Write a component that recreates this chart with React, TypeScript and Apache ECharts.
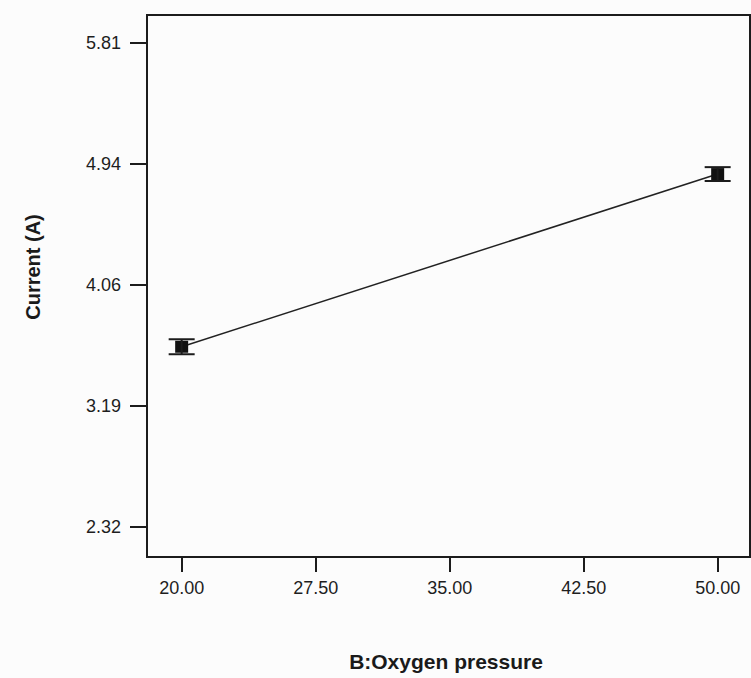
import React, { useEffect, useRef } from "react";
import * as echarts from "echarts";

// One-factor effect plot: mean current at the two oxygen-pressure levels, with LSD bars
const pressureLevels = [20, 50];
const currentMeans = [3.62, 4.865];
const lsdHalfWidths = [0.054, 0.05];

const xTickValues = [20, 27.5, 35, 42.5, 50];
const yTickValues = [2.32, 3.1925, 4.065, 4.9375, 5.81];
const yTickLabels = ["2.32", "3.19", "4.06", "4.94", "5.81"];

const X_MIN = 18.06;
const X_MAX = 51.81;
const Y_MIN = 2.104;
const Y_MAX = 6.012;

const INK = "#1c1c1c";
const FONT = "Liberation Sans, Arial, sans-serif";

export default function App() {
  const ref = useRef<HTMLDivElement>(null);

  useEffect(() => {
    if (!ref.current) return;
    const chart = echarts.init(ref.current, null, { renderer: "svg" });

    const points = pressureLevels.map((x, i) => [x, currentMeans[i]]);
    const bars = pressureLevels.map((x, i) => [x, currentMeans[i], lsdHalfWidths[i]]);

    chart.setOption({
      animation: false,
      backgroundColor: "#fcfcfc",
      grid: {
        left: 147,
        top: 15,
        right: 1,
        bottom: 121,
        show: true,
        borderColor: INK,
        borderWidth: 2,
        backgroundColor: "transparent",
      },
      xAxis: {
        type: "value",
        min: X_MIN,
        max: X_MAX,
        axisLine: { show: false },
        splitLine: { show: false },
        axisTick: {
          show: true,
          length: 15,
          customValues: xTickValues,
          lineStyle: { color: INK, width: 2 },
        },
        axisLabel: {
          margin: 22,
          customValues: xTickValues,
          formatter: (v: number) => v.toFixed(2),
          color: "#1e1e1e",
          fontFamily: FONT,
          fontSize: 18,
        },
      },
      yAxis: {
        type: "value",
        min: Y_MIN,
        max: Y_MAX,
        axisLine: { show: false },
        splitLine: { show: false },
        axisTick: {
          show: true,
          length: 17,
          customValues: yTickValues,
          lineStyle: { color: INK, width: 2 },
        },
        axisLabel: {
          margin: 26,
          customValues: yTickValues,
          formatter: (v: number) => {
            const i = yTickValues.findIndex((t) => Math.abs(t - v) < 1e-6);
            return i >= 0 ? yTickLabels[i] : "";
          },
          color: "#1e1e1e",
          fontFamily: FONT,
          fontSize: 18,
        },
      },
      graphic: [
        {
          type: "text",
          x: 446,
          y: 661,
          style: {
            text: "B:Oxygen pressure",
            align: "center",
            verticalAlign: "middle",
            fill: "#1a1a1a",
            font: `bold 21px ${FONT}`,
          },
        },
        {
          type: "text",
          x: 33,
          y: 267,
          rotation: Math.PI / 2,
          style: {
            text: "Current (A)",
            align: "center",
            verticalAlign: "middle",
            fill: "#1a1a1a",
            font: `bold 20px ${FONT}`,
          },
        },
      ],
      series: [
        {
          type: "line",
          data: points,
          symbol: "rect",
          symbolSize: [13, 12],
          itemStyle: { color: "#111" },
          lineStyle: { color: "#222", width: 1.5 },
          z: 3,
        },
        {
          type: "custom",
          data: bars,
          z: 4,
          renderItem: (params: any, api: any) => {
            const x = api.value(0);
            const y = api.value(1);
            const e = api.value(2);
            const top = api.coord([x, y + e]);
            const bot = api.coord([x, y - e]);
            const half = 13;
            const style = { stroke: INK, lineWidth: 2 };
            return {
              type: "group",
              children: [
                { type: "line", shape: { x1: top[0], y1: top[1], x2: bot[0], y2: bot[1] }, style },
                { type: "line", shape: { x1: top[0] - half, y1: top[1], x2: top[0] + half, y2: top[1] }, style },
                { type: "line", shape: { x1: bot[0] - half, y1: bot[1], x2: bot[0] + half, y2: bot[1] }, style },
              ],
            };
          },
        },
      ],
    });

    return () => chart.dispose();
  }, []);

  return (
    <div
      ref={ref}
      style={{ position: "fixed", left: 0, top: 0, width: 751, height: 678 }}
    />
  );
}
